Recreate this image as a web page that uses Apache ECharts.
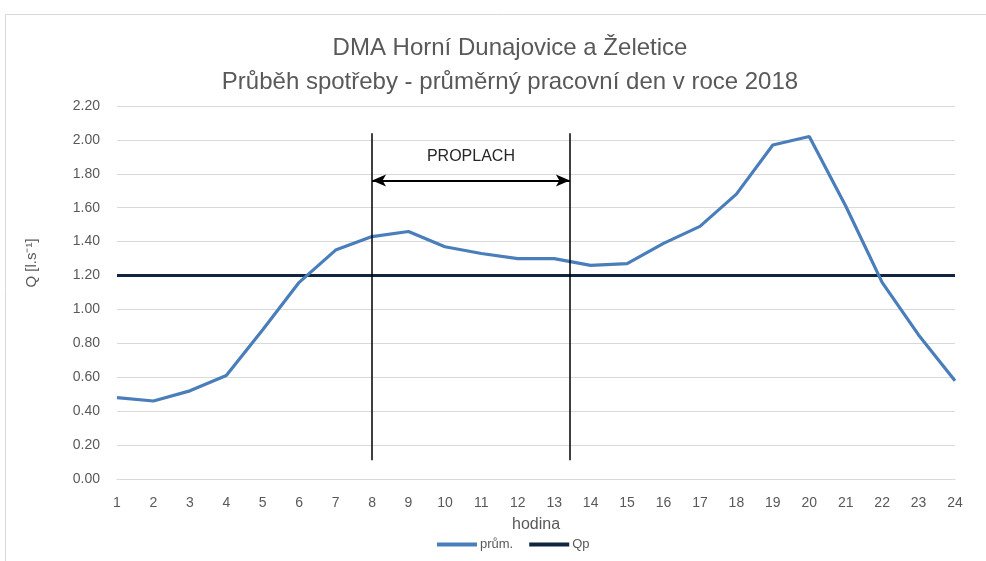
<!DOCTYPE html>
<html><head><meta charset="utf-8">
<script src="https://cdn.jsdelivr.net/npm/echarts@6/dist/echarts.min.js"></script>
<style>html,body{margin:0;padding:0;background:#fff}#c{width:986px;height:561px}</style>
</head><body><div id="c"></div>
<script>
const hours = [1,2,3,4,5,6,7,8,9,10,11,12,13,14,15,16,17,18,19,20,21,22,23,24];
const prum = [0.48,0.46,0.52,0.61,0.88,1.16,1.35,1.43,1.46,1.37,1.33,1.30,1.30,1.26,1.27,1.39,1.49,1.68,1.97,2.02,1.61,1.16,0.85,0.58];
const qp = [1.20,1.20,1.20,1.20,1.20,1.20,1.20,1.20,1.20,1.20,1.20,1.20,1.20,1.20,1.20,1.20,1.20,1.20,1.20,1.20,1.20,1.20,1.20,1.20];
const titleLines = ['DMA Horní Dunajovice a Želetice','Průběh spotřeby - průměrný pracovní den v roce 2018'];
const yAxisTitle = 'Q [l.s⁻¹]';
const xAxisTitle = 'hodina';
const flushStart = 8, flushEnd = 13.43, flushLabel = 'PROPLACH';
const flushTop = 2.04, flushBottom = 0.11, arrowY = 1.76, labelY = 1.90;

const font = "'Liberation Sans',sans-serif";
const grey = '#595959';
const chart = echarts.init(document.getElementById('c'));
chart.setOption({
  animation: false,
  graphic: [
    {type:'rect', shape:{x:5.5,y:14.5,width:990,height:560}, style:{fill:'none', stroke:'#d9d9d9', lineWidth:1}, silent:true},
    {type:'text', x:32, y:263, rotation:Math.PI/2, silent:true,
      style:{text:yAxisTitle, fill:grey, font:"15px 'Liberation Sans',sans-serif", textAlign:'center', textVerticalAlign:'middle'}}
  ],
  title: {text: titleLines.join('\n'), left: 505, top: 26, textAlign: 'center',
    textStyle:{fontFamily:font, fontSize:24, fontWeight:'normal', color:grey, lineHeight:34}},
  grid: {left:117, right:31, top:106, bottom:82},
  legend: {bottom: 5, left: 432, itemWidth:40, itemHeight:4, itemGap:16,
    textStyle:{fontFamily:font, fontSize:13, color:grey, padding:[0,0,0,-2]},
    data:[{name:'prům.', icon:'rect'},{name:'Qp', icon:'rect'}]},
  xAxis: {type:'value', min:1, max:24, interval:1, name:xAxisTitle, nameLocation:'middle', nameGap:38,
    nameTextStyle:{fontFamily:font, fontSize:16, color:grey},
    axisLine:{show:true, lineStyle:{color:'#d9d9d9'}}, axisTick:{show:false}, splitLine:{show:false},
    axisLabel:{fontFamily:font, fontSize:14, color:grey, margin:17}},
  yAxis: {type:'value', min:0, max:2.2, interval:0.2,
    axisLine:{show:false}, axisTick:{show:false},
    splitLine:{lineStyle:{color:'#d9d9d9', width:1}},
    axisLabel:{fontFamily:font, fontSize:14, color:grey, margin:17, formatter:v=>v.toFixed(2)}},
  series: [
    {name:'prům.', type:'line', data:hours.map((h,i)=>[h,prum[i]]), symbol:'none',
      lineStyle:{color:'#4a7ebb', width:3.2}, itemStyle:{color:'#4a7ebb'}, z:3,
      markLine:{silent:true, symbol:'none', label:{show:false},
        lineStyle:{color:'#000', width:1.5, type:'solid'},
        data:[
          [{coord:[flushStart,flushTop]},{coord:[flushStart,flushBottom]}],
          [{coord:[flushEnd,flushTop]},{coord:[flushEnd,flushBottom]}],
          [{coord:[flushStart,arrowY], symbol:'arrow', symbolSize:[9,14], lineStyle:{width:2}},
           {coord:[flushEnd,arrowY], symbol:'arrow', symbolSize:[9,14]}]
        ]},
      markPoint:{silent:true, symbol:'rect', symbolSize:1, itemStyle:{color:'rgba(0,0,0,0)'},
        label:{show:true, position:'inside', formatter:flushLabel, fontFamily:font, fontSize:16, color:'#262626'},
        data:[{coord:[(flushStart+flushEnd)/2, labelY]}]}
    },
    {name:'Qp', type:'line', data:hours.map((h,i)=>[h,qp[i]]), symbol:'none',
      lineStyle:{color:'#10253f', width:3}, itemStyle:{color:'#10253f'}, z:2}
  ]
});
</script></body></html>
